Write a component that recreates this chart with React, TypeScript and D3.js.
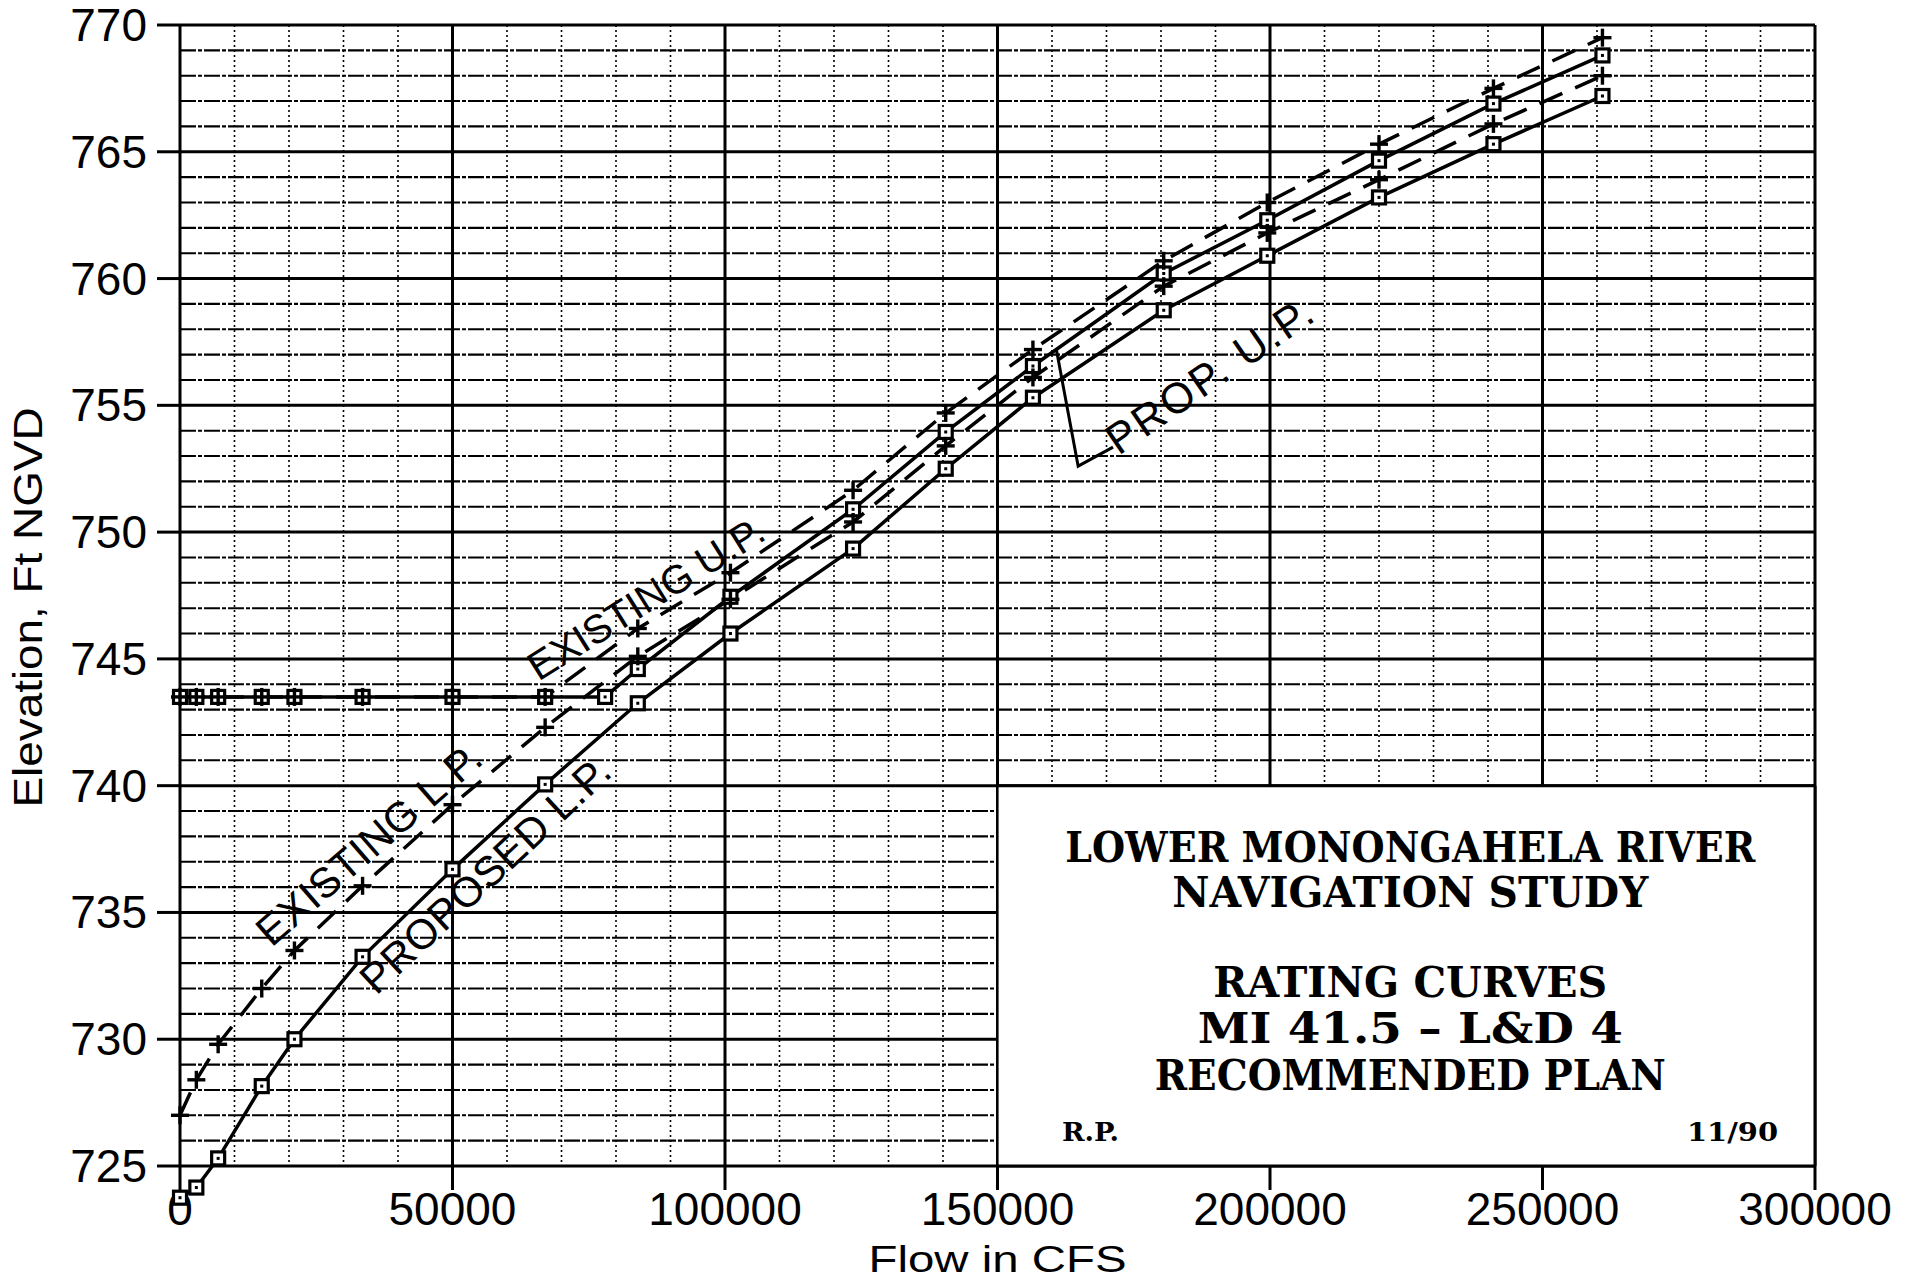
import React from 'react';
import * as d3 from 'd3';

// Discharge (cfs) at which each rating curve was computed
const flows = [0, 3000, 7000, 15000, 21000, 33500, 50000, 67000, 84000, 101000, 123500, 140500, 156500, 180500, 199500, 220000, 241000, 261000];
// Proposed upper pool has one extra point where it leaves the flat pool
const proposedUPFlows = [0, 3000, 7000, 15000, 21000, 33500, 50000, 67000, 78000, 84000, 101000, 123500, 140500, 156500, 180500, 199500, 220000, 241000, 261000];

// Water-surface elevations, ft NGVD
const proposedLP = [723.75, 724.15, 725.3, 728.15, 730.0, 733.25, 736.7, 740.05, 743.25, 746.0, 749.35, 752.5, 755.3, 758.75, 760.9, 763.2, 765.3, 767.2];
const existingLP = [727.0, 728.4, 729.8, 732.0, 733.5, 736.05, 739.25, 742.3, 745.1, 747.35, 750.4, 753.4, 756.1, 759.7, 761.8, 763.9, 766.1, 768.0];
const existingUP = [743.5, 743.5, 743.5, 743.5, 743.5, 743.5, 743.5, 743.5, 746.2, 748.4, 751.65, 754.7, 757.2, 760.7, 763.0, 765.3, 767.5, 769.5];
const proposedUP = [743.5, 743.5, 743.5, 743.5, 743.5, 743.5, 743.5, 743.5, 743.5, 744.6, 747.45, 750.9, 753.95, 756.55, 760.2, 762.3, 764.65, 766.9, 768.8];

const xTicks = [0, 50000, 100000, 150000, 200000, 250000, 300000];
const yTicks = [725, 730, 735, 740, 745, 750, 755, 760, 765, 770];

const titleLines = ['LOWER MONONGAHELA RIVER', 'NAVIGATION STUDY', 'RATING CURVES', 'MI 41.5 \u2013 L&D 4', 'RECOMMENDED PLAN'];

// Curve labels placed in data units (flow, elevation) with their slant in degrees
const curveLabels = [
  { text: 'EXISTING L.P.', flow: 16800, elev: 733.6, angle: -41, size: 42, spacing: 0.5 },
  { text: 'PROPOSED L.P.', flow: 36000, elev: 731.7, angle: -43, size: 42, spacing: 0.5 },
  { text: 'EXISTING U.P.', flow: 65800, elev: 744.1, angle: -32, size: 40, spacing: 0 },
  { text: 'PROP. U.P.', flow: 172200, elev: 753.0, angle: -34.5, size: 43, spacing: 2.5 },
];
// Leader from the PROP. U.P. label to its curve
const leaderFlows = [160800, 164800, 171200];
const leaderElevs = [757.2, 752.6, 753.35];

const W = 1914;
const H = 1281;

const x = d3.scaleLinear().domain([0, 300000]).range([180, 1815]);
const y = d3.scaleLinear().domain([725, 770]).range([1166, 25]);

const sans = "'Liberation Sans', Arial, Helvetica, sans-serif";
const serif = "'DejaVu Serif Condensed', 'DejaVu Serif', 'Liberation Serif', serif";

type Pt = [number, number];
const zipPts = (xs: number[], ys: number[]): Pt[] => xs.map((v, i) => [v, ys[i]]);

const lineGen = d3
  .line<Pt>()
  .x((d) => x(d[0]))
  .y((d) => y(d[1]))
  .curve(d3.curveLinear);

function Square({ cx, cy }: { cx: number; cy: number }) {
  const s = 13;
  return (
    <g>
      <rect x={cx - s / 2} y={cy - s / 2} width={s} height={s} fill="#fff" stroke="#000" strokeWidth={3.2} />
      <rect x={cx - 1.5} y={cy - 1.5} width={3} height={3} fill="#000" />
    </g>
  );
}

function Plus({ cx, cy }: { cx: number; cy: number }) {
  const s = 9;
  return (
    <g stroke="#000" strokeWidth={3.4}>
      <line x1={cx - s} x2={cx + s} y1={cy} y2={cy} />
      <line x1={cx} x2={cx} y1={cy - s} y2={cy + s} />
    </g>
  );
}

export default function App() {
  const minorY = d3.range(726, 770, 1).filter((v) => v % 5 !== 0);
  const minorX = d3.range(10000, 300000, 10000).filter((v) => v % 50000 !== 0);

  const boxX0 = x(150000);
  const boxX1 = x(300000);
  const boxY0 = y(740);
  const boxY1 = y(725);
  const boxCx = (boxX0 + boxX1) / 2 + 4;

  const elp = zipPts(flows, existingLP);
  const eup = zipPts(flows, existingUP);
  const plp = zipPts(flows, proposedLP);
  const pup = zipPts(proposedUPFlows, proposedUP);

  const leader = zipPts(leaderFlows, leaderElevs);

  return (
    <svg
      width={W}
      height={H}
      viewBox={`0 0 ${W} ${H}`}
      style={{ position: 'absolute', left: 0, top: 0, background: '#fff', display: 'block' }}
    >
      <rect x={0} y={0} width={W} height={H} fill="#fff" />

      {/* minor vertical grid: dotted every 10000 cfs */}
      <g stroke="#000" strokeWidth={1.6} strokeDasharray="2 3">
        {minorX.map((v) => (
          <line key={v} x1={x(v)} x2={x(v)} y1={y(770)} y2={y(725)} />
        ))}
      </g>
      {/* minor horizontal grid: dashed every foot */}
      <g stroke="#000" strokeWidth={2.1} strokeDasharray="16 2 4 2">
        {minorY.map((v) => (
          <line key={v} x1={x(0)} x2={x(300000)} y1={y(v)} y2={y(v)} />
        ))}
      </g>
      {/* major grid */}
      <g stroke="#000" strokeWidth={3}>
        {xTicks.map((v) => (
          <line key={v} x1={x(v)} x2={x(v)} y1={y(770)} y2={y(725)} />
        ))}
        {yTicks.map((v) => (
          <line key={v} x1={x(0)} x2={x(300000)} y1={y(v)} y2={y(v)} />
        ))}
      </g>

      {/* title block blanks out the lower-right of the grid */}
      <rect x={boxX0} y={boxY0} width={boxX1 - boxX0} height={boxY1 - boxY0} fill="#fff" />
      <g stroke="#000" fill="none">
        <line x1={boxX0} x2={boxX1} y1={boxY0} y2={boxY0} strokeWidth={3} />
        <line x1={boxX0} x2={boxX0} y1={boxY0} y2={boxY1} strokeWidth={2.2} />
        <line x1={boxX1} x2={boxX1} y1={boxY0} y2={boxY1} strokeWidth={3} />
        <line x1={boxX0} x2={boxX1} y1={boxY1} y2={boxY1} strokeWidth={3} />
      </g>

      {/* axes ticks */}
      <g stroke="#000" strokeWidth={3}>
        {yTicks.map((v) => (
          <line key={v} x1={x(0) - 23} x2={x(0)} y1={y(v)} y2={y(v)} />
        ))}
        {xTicks.map((v) => (
          <line key={v} x1={x(v)} x2={x(v)} y1={y(725)} y2={y(725) + 24} />
        ))}
      </g>
      <g fontFamily={sans} fontSize={46} fill="#000">
        {yTicks.map((v) => (
          <text key={v} x={x(0) - 33} y={y(v) + 16} textAnchor="end">
            {v}
          </text>
        ))}
        {xTicks.map((v) => (
          <text key={v} x={x(v)} y={y(725) + 59} textAnchor="middle">
            {v}
          </text>
        ))}
      </g>
      <text
        fontFamily={sans}
        fontSize={40}
        textLength={400}
        lengthAdjust="spacingAndGlyphs"
        transform={`translate(42, ${(y(770) + y(725)) / 2 + 12}) rotate(-90)`}
        textAnchor="middle"
      >
        Elevation, Ft NGVD
      </text>
      <text
        fontFamily={sans}
        fontSize={37}
        textLength={258}
        lengthAdjust="spacingAndGlyphs"
        x={(x(0) + x(300000)) / 2}
        y={1272}
        textAnchor="middle"
      >
        Flow in CFS
      </text>

      {/* rating curves */}
      <g fill="none" stroke="#000" strokeWidth={3.5}>
        <path d={lineGen(elp) ?? ''} strokeDasharray="25 14" />
        <path d={lineGen(eup) ?? ''} strokeDasharray="25 14" />
        <path d={lineGen(plp) ?? ''} />
        <path d={lineGen(pup) ?? ''} />
      </g>
      <g>
        {plp.map((d, i) => (
          <Square key={'pl' + i} cx={x(d[0])} cy={y(d[1])} />
        ))}
        {pup.map((d, i) => (
          <Square key={'pu' + i} cx={x(d[0])} cy={y(d[1])} />
        ))}
        {elp.map((d, i) => (
          <Plus key={'el' + i} cx={x(d[0])} cy={y(d[1])} />
        ))}
        {eup.map((d, i) => (
          <Plus key={'eu' + i} cx={x(d[0])} cy={y(d[1])} />
        ))}
      </g>

      {/* curve labels */}
      <g fontFamily={sans} fill="#000">
        {curveLabels.map((l) => (
          <text
            key={l.text}
            fontSize={l.size}
            letterSpacing={l.spacing}
            transform={`translate(${x(l.flow)}, ${y(l.elev)}) rotate(${l.angle})`}
          >
            {l.text}
          </text>
        ))}
      </g>
      <path d={d3.line<Pt>().x((d) => x(d[0])).y((d) => y(d[1]))(leader) ?? ''} fill="none" stroke="#000" strokeWidth={3} />

      {/* title block text */}
      <g fontFamily={serif} fontWeight="bold" fill="#000" textAnchor="middle">
        <text x={boxCx} y={862} fontSize={42} textLength={690} lengthAdjust="spacingAndGlyphs">
          {titleLines[0]}
        </text>
        <text x={boxCx} y={907} fontSize={42} textLength={476} lengthAdjust="spacingAndGlyphs">
          {titleLines[1]}
        </text>
        <text x={boxCx} y={997} fontSize={42} textLength={394} lengthAdjust="spacingAndGlyphs">
          {titleLines[2]}
        </text>
        <text x={boxCx} y={1043} fontSize={42} textLength={425} lengthAdjust="spacingAndGlyphs">
          {titleLines[3]}
        </text>
        <text x={boxCx} y={1090} fontSize={42} textLength={511} lengthAdjust="spacingAndGlyphs">
          {titleLines[4]}
        </text>
      </g>
      <g fontFamily={serif} fontWeight="bold" fontSize={26} fill="#000">
        <text x={1062} y={1141} textLength={57} lengthAdjust="spacingAndGlyphs">
          R.P.
        </text>
        <text x={1687} y={1141} textLength={91} lengthAdjust="spacingAndGlyphs">
          11/90
        </text>
      </g>
    </svg>
  );
}
